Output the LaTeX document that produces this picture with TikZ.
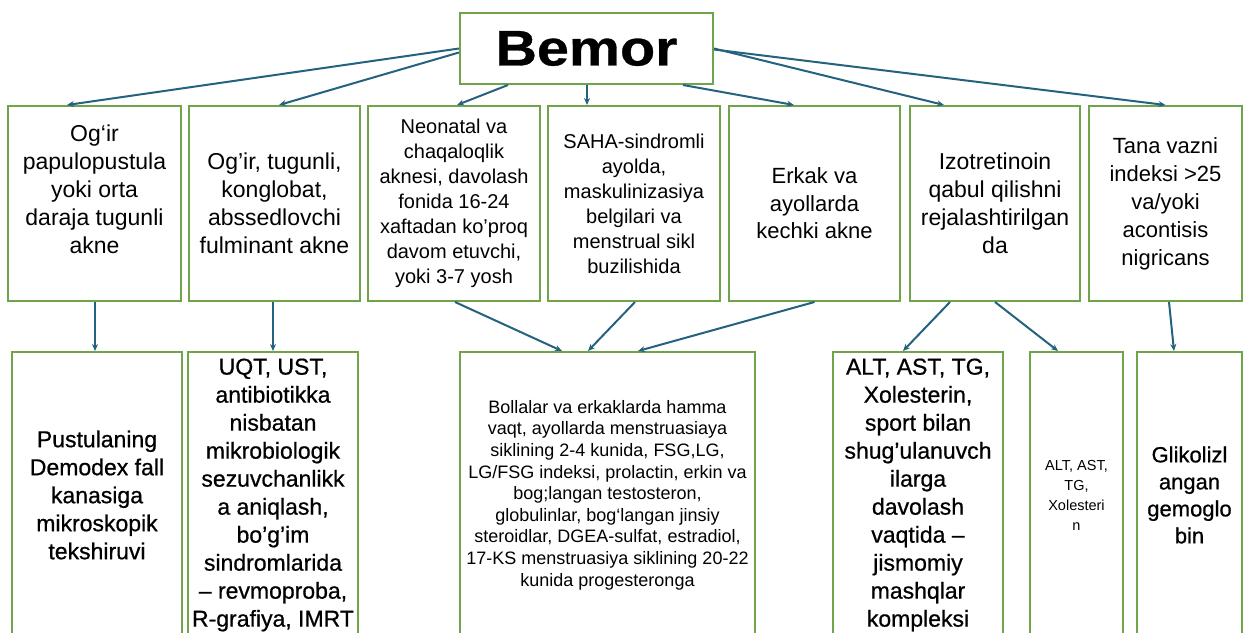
\documentclass[tikz,border=0pt]{standalone}
\usepackage{fontspec}
\setmainfont{Liberation Sans}
\newfontfamily\heavyfont{Liberation Sans}[FakeBold=0.7]
\newfontfamily\blackfont{Liberation Sans Bold}[FakeBold=0.6]
\usepackage{graphicx}
\usetikzlibrary{arrows.meta}
\definecolor{boxgreen}{HTML}{6FA44A}
\definecolor{arrowblue}{HTML}{25627F}

\begin{document}
\begin{tikzpicture}[x=1pt,y=-1pt,>={Stealth[length=7pt,width=6pt]}]
        \tikzstyle{every node} = [rectangle, inner sep=0pt, align=center]
        \tikzstyle{box} = [draw=boxgreen, line width=2pt, fill=white]
        \tikzstyle{cond} = [box, minimum height=195pt]
        \tikzstyle{test} = [box, minimum height=286pt]
        \tikzstyle{txtL} = [font=\fontsize{23}{28}\selectfont]
        \tikzstyle{txtH} = [font=\heavyfont\fontsize{23}{28}\selectfont]
        \tikzstyle{txtM} = [font=\fontsize{20}{25}\selectfont]
        \tikzstyle{txtS} = [font=\fontsize{18}{21.6}\selectfont]
        \tikzstyle{txtXS} = [font=\fontsize{14.5}{20}\selectfont]
        \useasboundingbox (0,0) rectangle (1246,632);
        \clip (0,0) rectangle (1246,632);
        \fill[white] (0,0) rectangle (1246,632);

        \node[box, minimum width=253pt, minimum height=71pt, font=\blackfont\fontsize{50}{60}\selectfont] (bemor) at (586.5,48.5) {\scalebox{1.15}[1]{Bemor}};

        \node[cond, txtL, minimum width=173pt] (a1) at (94.5,203.5) {Og‘ir\\papulopustula\\yoki orta\\daraja tugunli\\akne\\\mbox{}};
        \node[cond, txtL, minimum width=171pt] (a2) at (274.5,203.5) {Og’ir, tugunli,\\konglobat,\\abssedlovchi\\fulminant akne};
        \node[cond, txtM, minimum width=172pt] (a3) at (454,203.5) {Neonatal va\\chaqaloqlik\\aknesi, davolash\\fonida 16-24\\xaftadan ko’proq\\davom etuvchi,\\yoki 3-7 yosh};
        \node[cond, txtM, minimum width=172pt] (a4) at (634,203.5) {SAHA-sindromli\\ayolda,\\maskulinizasiya\\belgilari va\\menstrual sikl\\buzilishida};
        \node[cond, font=\fontsize{22}{27.5}\selectfont, minimum width=171pt] (a5) at (814.5,203.5) {Erkak va\\ayollarda\\kechki akne};
        \node[cond, txtL, minimum width=170pt] (a6) at (995,203.5) {Izotretinoin\\qabul qilishni\\rejalashtirilgan\\da};
        \node[cond, font=\fontsize{22}{28}\selectfont, minimum width=153pt] (a7) at (1165.5,203.5) {Tana vazni\\indeksi >25\\va/yoki\\acontisis\\nigricans};

        \node[test, txtH, minimum width=170pt] (b1) at (97,495) {Pustulaning\\Demodex fall\\kanasiga\\mikroskopik\\tekshiruvi};
        \node[test, txtH, minimum width=170pt] (b2) at (273,495) {UQT, UST,\\antibiotikka\\nisbatan\\mikrobiologik\\sezuvchanlikk\\a aniqlash,\\bo’g’im\\sindromlarida\\– revmoproba,\\R-grafiya, IMRT};
        \node[test, txtS, minimum width=295pt] (b3) at (607.5,495) {Bollalar va erkaklarda hamma\\vaqt, ayollarda menstruasiaya\\siklining 2-4 kunida, FSG,LG,\\LG/FSG indeksi, prolactin, erkin va\\bog;langan testosteron,\\globulinlar, bog‘langan jinsiy\\steroidlar, DGEA-sulfat, estradiol,\\17-KS menstruasiya siklining 20-22\\kunida progesteronga};
        \node[test, txtH, minimum width=170pt] (b4) at (918,495) {ALT, AST, TG,\\Xolesterin,\\sport bilan\\shug’ulanuvch\\ilarga\\davolash\\vaqtida –\\jismomiy\\mashqlar\\kompleksi};
        \node[test, txtXS, minimum width=93pt] (b5) at (1076.5,495) {ALT, AST,\\TG,\\Xolesteri\\n};
        \node[test, font=\heavyfont\fontsize{22}{27}\selectfont, minimum width=105pt] (b6) at (1189.5,495) {Glikolizl\\angan\\gemoglo\\bin};

        \foreach \from/\fx/\fy/\to/\tx in {bemor.west/0/0/a1.north/-27.5, bemor.west/0/-4/a2.north/4.5,
            bemor.south/-78.5/0/a3.north/3, bemor.south/0.5/0/a4.north/-47, bemor.south/96.5/0/a5.north/-20.5,
            bemor.east/0/0/a6.north/-51, bemor.east/0/-1/a7.north/0,
            a1.south/0.5/0/b1.north/-2, a2.south/-1.5/0/b2.north/0, a3.south/1/0/b3.north/-45.5,
            a4.south/1/0/b3.north/-19.5, a5.south/0/0/b3.north/30.5, a6.south/-45/0/b4.north/-15,
            a6.south/0/0/b5.north/-18.5, a7.south/3.5/0/b6.north/-15.5}
            \draw[->, arrowblue, line width=2pt] ([xshift=\fx pt, yshift=\fy pt]\from) -- ([xshift=\tx pt]\to);
\end{tikzpicture}
\end{document}
